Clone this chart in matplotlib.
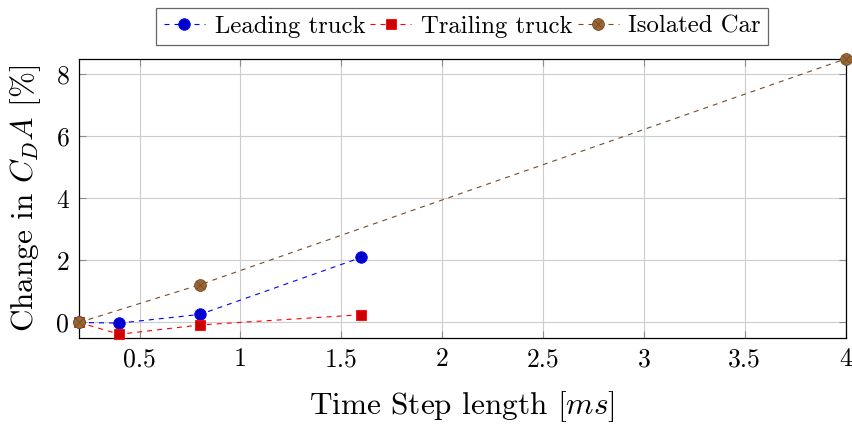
import numpy as np
import matplotlib
matplotlib.use("Agg")
import matplotlib.pyplot as plt
from matplotlib.ticker import FormatStrFormatter, MultipleLocator
from matplotlib.legend_handler import HandlerTuple

plt.rcParams['font.family'] = 'cmr10'
plt.rcParams['mathtext.fontset'] = 'cm'
plt.rcParams['axes.formatter.use_mathtext'] = True
plt.rcParams['lines.scale_dashes'] = False
plt.rcParams['font.size'] = 18.5

# data
lead_x = [0.2, 0.4, 0.8, 1.6]
lead_y = [0.0, -0.02, 0.26, 2.1]
trail_x = [0.2, 0.4, 0.8, 1.6]
trail_y = [0.0, -0.38, -0.08, 0.25]
car_x = [0.2, 0.8, 4.0]
car_y = [0.0, 1.22, 8.5]

blue = (0, 0, 1)
red = (1, 0, 0)
brown = (0.45, 0.3, 0.15)
dash = (0, (3.6, 3.6))

fig = plt.figure(figsize=(8.53, 4.30), dpi=100)
ax = fig.add_axes([0.0926, 0.214, 0.8987, 0.649])

l1, = ax.plot(lead_x, lead_y, color=blue, lw=0.8, linestyle=dash,
              marker='o', ms=8.3, mfc=(0, 0, 0.8), mec=blue, mew=0.6,
              label='Leading truck', clip_on=False, zorder=3)
l2, = ax.plot(trail_x, trail_y, color=red, lw=0.8, linestyle=dash,
              marker='s', ms=7.6, mfc=(0.8, 0, 0), mec=red, mew=0.6,
              label='Trailing truck', clip_on=False, zorder=3)
l3, = ax.plot(car_x, car_y, color=brown, lw=0.8, linestyle=dash,
              marker='o', ms=8.5, mfc=(0.6, 0.4, 0.2), mec=brown, mew=0.6,
              label='Isolated Car', clip_on=False, zorder=4)
l3x, = ax.plot(car_x, car_y, linestyle='none', marker='x', ms=5.5,
               mec=brown, mew=0.6, clip_on=False, zorder=5)

ax.set_xlim(0.2, 4)
ax.set_ylim(-0.5, 8.5)
ax.xaxis.set_major_locator(MultipleLocator(0.5))
ax.yaxis.set_major_locator(MultipleLocator(2))
ax.xaxis.set_major_formatter(FormatStrFormatter('%g'))
ax.yaxis.set_major_formatter(FormatStrFormatter('%g'))

ax.grid(True, color=(0.8, 0.8, 0.8), lw=0.8)
ax.set_axisbelow(True)
ax.tick_params(direction='in', length=5, width=0.8, color=(0.55, 0.55, 0.55),
               top=True, right=True, pad=7)
for s in ax.spines.values():
    s.set_linewidth(0.9)

ax.set_xlabel('Time Step length [$ms$]', fontsize=22.5, labelpad=13)
ax.set_ylabel('Change in $C_DA$ [%]', fontsize=22.5, labelpad=10)

leg = ax.legend([l1, l2, (l3, l3x)], ['Leading truck', 'Trailing truck', 'Isolated Car'],
                handler_map={tuple: HandlerTuple(ndivide=1, pad=0)},
                loc='lower center', bbox_to_anchor=(0.5, 1.05), ncol=3,
                frameon=True, fancybox=False, edgecolor=(0.25, 0.25, 0.25),
                borderaxespad=0, handlelength=1.66, handletextpad=0.4,
                columnspacing=0.2, borderpad=0.3, fontsize=17.8)
leg.get_frame().set_linewidth(0.9)

fig.savefig('out.png', dpi=100)
